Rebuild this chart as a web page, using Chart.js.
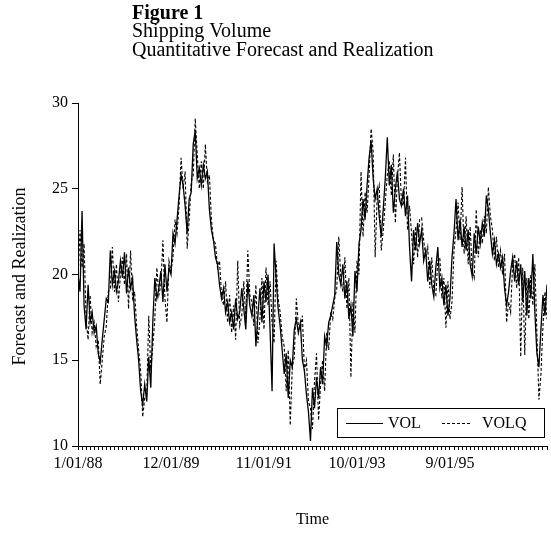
<!DOCTYPE html>
<html>
<head>
<meta charset="utf-8">
<script src="https://cdn.jsdelivr.net/npm/chart.js@4.4.1/dist/chart.umd.min.js"></script>
<style>
  html, body { margin: 0; padding: 0; background: #fff; }
  canvas { display: block; }
</style>
</head>
<body>
<canvas id="chart" width="551" height="535"></canvas>
<script>
// Header and axis texts
const headerLines = ['Figure 1', 'Shipping Volume', 'Quantitative Forecast and Realization'];
const xAxisTitle = 'Time';
const yAxisTitle = 'Forecast and Realization';

// Time axis: months since 1/01/88, a date label every 23 months
const dateLabels = ['1/01/88', '12/01/89', '11/01/91', '10/01/93', '9/01/95'];
const monthsPerLabel = 23;
const lastMonth = 116;
const monthsPerObs = 0.5;   // two observations per month

const seriesNames = ['VOL', 'VOLQ'];

// Realized shipping volume
const vol = [
  20.0, 19.0, 23.7, 18.2, 16.8, 19.4, 17.2, 17.8, 16.6, 17.0,
  15.4, 14.9, 16.2, 17.4, 18.6, 18.4, 21.4, 19.4, 20.2, 19.0,
  19.6, 20.8, 19.8, 21.3, 18.9, 20.4, 19.2, 19.8, 17.6, 16.2,
  15.0, 13.2, 12.4, 13.6, 12.6, 15.2, 13.4, 17.2, 19.8, 18.6,
  19.2, 20.2, 18.4, 20.6, 19.0, 20.4, 20.0, 22.4, 21.8, 23.2,
  24.6, 25.8, 25.2, 24.0, 22.4, 24.4, 24.8, 27.6, 28.4, 25.6,
  26.2, 25.2, 26.4, 25.6, 26.0, 23.8, 22.6, 22.0, 21.0, 20.6,
  19.4, 18.6, 19.2, 17.8, 18.4, 17.2, 17.8, 16.8, 18.6, 17.4,
  17.8, 19.2, 18.0, 16.8, 19.6, 18.2, 17.6, 18.8, 15.8, 17.6,
  19.2, 17.2, 19.6, 18.4, 20.0, 16.8, 13.2, 21.8, 19.8, 18.0,
  17.0, 15.6, 14.2, 15.4, 12.8, 15.0, 14.6, 16.8, 17.4, 16.6,
  17.2, 15.0, 14.4, 13.0, 12.0, 10.3, 13.4, 12.2, 14.0, 12.8,
  14.6, 13.6, 16.4, 15.8, 17.2, 17.6, 18.2, 18.8, 21.9, 20.0,
  19.4, 20.6, 18.6, 19.6, 17.4, 18.2, 16.4, 20.2, 19.0, 21.8,
  22.6, 24.4, 23.2, 25.2, 26.8, 27.8, 25.6, 24.4, 25.0, 23.4,
  22.2, 23.8, 25.6, 28.0, 25.2, 26.4, 23.6, 25.0, 26.0, 24.4,
  24.0, 25.0, 23.4, 24.6, 21.6, 19.6, 22.6, 21.4, 23.0, 21.8,
  22.6, 20.8, 21.4, 19.6, 20.8, 19.4, 18.7, 20.4, 21.6, 19.2,
  19.8, 18.2, 19.4, 17.6, 18.6, 21.0, 22.4, 24.4, 22.0, 23.2,
  21.6, 22.8, 21.4, 22.6, 20.6, 19.9, 22.4, 21.2, 22.8, 21.8,
  23.0, 22.2, 24.6, 23.8, 22.4, 21.2, 22.0, 20.6, 21.2, 20.4,
  21.0, 19.2, 18.2, 19.0, 20.2, 21.0, 19.6, 20.8, 19.4, 20.6,
  18.4, 20.2, 17.6, 19.8, 18.6, 21.2, 17.8, 15.4, 14.6, 16.8,
  18.8, 17.6, 19.4
];

// Quantitative forecast of shipping volume
const volq = [
  19.6, 22.6, 20.4, 21.8, 17.4, 16.2, 18.8, 16.6, 17.2, 15.8,
  16.2, 13.6, 15.0, 16.4, 17.0, 19.0, 19.2, 21.6, 19.0, 20.6,
  18.4, 20.0, 21.0, 19.4, 21.2, 18.0, 21.4, 18.6, 19.0, 17.0,
  15.6, 14.4, 11.7, 12.8, 13.0, 17.6, 14.4, 15.8, 17.4, 20.4,
  18.8, 19.4, 22.0, 18.6, 17.2, 20.8, 20.2, 21.0, 23.2, 22.4,
  24.0, 26.8, 25.0, 26.0, 21.5, 23.2, 25.4, 25.8, 29.1, 27.0,
  25.0, 26.6, 25.0, 27.6, 25.4, 25.8, 23.2, 22.0, 21.8, 20.4,
  20.8, 18.8, 18.2, 19.6, 17.2, 18.8, 16.6, 18.2, 16.2, 20.8,
  17.0, 17.6, 19.6, 17.4, 21.4, 18.8, 18.4, 17.0, 19.4, 16.0,
  17.4, 19.8, 16.8, 20.4, 18.2, 19.6, 17.2, 16.0, 20.8, 18.6,
  17.8, 16.4, 15.8, 13.2, 15.6, 11.2, 14.6, 15.2, 18.6, 17.0,
  16.8, 17.6, 14.4, 15.0, 12.6, 12.2, 11.0, 13.8, 15.4, 11.5,
  13.6, 15.0, 13.2, 16.6, 15.6, 17.8, 17.4, 18.6, 19.2, 22.2,
  19.8, 19.0, 21.0, 18.0, 19.8, 14.0, 18.4, 16.6, 20.8, 20.0,
  26.0, 22.2, 24.8, 23.6, 25.8, 28.5, 27.2, 21.0, 24.6, 25.2,
  21.4, 22.6, 24.2, 25.8, 26.6, 24.6, 27.0, 23.0, 25.6, 27.1,
  24.2, 24.0, 26.8, 22.6, 24.0, 22.4, 20.6, 22.8, 21.0, 23.2,
  23.3, 22.0, 21.0, 21.6, 19.2, 21.0, 19.0, 18.8, 20.8, 21.0,
  18.6, 19.8, 16.9, 19.6, 17.4, 18.4, 21.4, 22.6, 24.2, 22.0,
  25.1, 21.2, 23.4, 20.6, 22.8, 20.2, 19.8, 23.8, 21.0, 22.6,
  21.8, 23.4, 22.4, 25.1, 23.4, 22.6, 20.8, 22.2, 20.4, 21.4,
  20.0, 21.2, 17.2, 18.4, 17.8, 20.6, 21.2, 19.2, 21.0, 15.2,
  20.4, 15.3, 19.8, 17.4, 20.0, 18.2, 20.6, 16.6, 12.7, 14.2,
  17.0, 19.0, 17.4
];

const SERIF = '"Liberation Serif", "Times New Roman", serif';

const toPoints = arr => arr.map((v, i) => ({ x: i * monthsPerObs, y: v }));

// White page, header lines and axis titles
const pageText = {
  id: 'pageText',
  beforeDraw(chart) {
    const ctx = chart.ctx;
    ctx.save();
    ctx.fillStyle = '#fff';
    ctx.fillRect(0, 0, chart.width, chart.height);
    ctx.fillStyle = '#000';
    ctx.textAlign = 'left';
    ctx.textBaseline = 'middle';
    const ys = [13.5, 32, 50.5];
    headerLines.forEach((t, k) => {
      ctx.font = (k === 0 ? 'bold ' : '') + '20px ' + SERIF;
      ctx.fillText(t, 132, ys[k]);
    });
    ctx.textAlign = 'center';
    const a = chart.chartArea;
    ctx.font = '16px ' + SERIF;
    ctx.fillText(xAxisTitle, (a.left + a.right) / 2, 520);
    ctx.font = '18px ' + SERIF;
    ctx.translate(20, (a.top + a.bottom) / 2 + 2);
    ctx.rotate(-Math.PI / 2);
    ctx.fillText(yAxisTitle, 0, 0);
    ctx.restore();
  }
};

// Boxed legend inside the lower right of the plot
const boxedLegend = {
  id: 'boxedLegend',
  afterDatasetsDraw(chart) {
    const ctx = chart.ctx;
    const x0 = 337, y0 = 408, w = 207, h = 29;
    const cy = Math.round(y0 + h / 2) + 0.5;
    const slots = [{ x1: 346, x2: 383, tx: 388 }, { x1: 442, x2: 472, tx: 482 }];
    ctx.save();
    ctx.fillStyle = '#fff';
    ctx.fillRect(x0, y0, w, h);
    ctx.strokeStyle = '#000';
    ctx.lineWidth = 1;
    ctx.strokeRect(x0 + 0.5, y0 + 0.5, w, h);
    ctx.font = '16px ' + SERIF;
    ctx.textBaseline = 'middle';
    ctx.textAlign = 'left';
    ctx.fillStyle = '#000';
    chart.data.datasets.forEach((ds, k) => {
      const s = slots[k];
      ctx.lineWidth = 1;
      ctx.setLineDash(ds.borderDash || []);
      ctx.beginPath();
      ctx.moveTo(s.x1, cy);
      ctx.lineTo(s.x2, cy);
      ctx.stroke();
      ctx.setLineDash([]);
      ctx.fillText(ds.label, s.tx, cy);
    });
    ctx.restore();
  }
};

new Chart(document.getElementById('chart'), {
  type: 'line',
  data: {
    datasets: [
      { label: seriesNames[0], data: toPoints(vol), borderColor: '#000', borderWidth: 1.3,
        pointRadius: 0, tension: 0, fill: false },
      { label: seriesNames[1], data: toPoints(volq), borderColor: '#000', borderWidth: 1.1,
        borderDash: [3, 2], pointRadius: 0, tension: 0, fill: false }
    ]
  },
  options: {
    responsive: false,
    animation: false,
    events: [],
    layout: { padding: { top: 103, right: 0, bottom: 0, left: 0 } },
    plugins: { legend: { display: false }, title: { display: false }, tooltip: { enabled: false } },
    scales: {
      x: {
        type: 'linear',
        min: 0,
        max: lastMonth,
        grid: { drawOnChartArea: false, drawTicks: true, tickLength: 4, color: '#000', tickColor: '#000' },
        border: { display: true, color: '#000', width: 1 },
        ticks: {
          stepSize: 1,
          autoSkip: false,
          maxRotation: 0,
          minRotation: 0,
          padding: 4,
          color: '#000',
          font: { family: SERIF, size: 16 },
          callback: v => (Number.isInteger(v) && v % monthsPerLabel === 0 && dateLabels[v / monthsPerLabel]) || ''
        },
        afterFit(scale) { scale.height = 89; }
      },
      y: {
        min: 10,
        max: 30,
        grid: { drawOnChartArea: false, drawTicks: true, tickLength: 6, color: '#000', tickColor: '#000' },
        border: { display: true, color: '#000', width: 1 },
        ticks: { stepSize: 5, padding: 4, color: '#000', font: { family: SERIF, size: 16 } },
        afterFit(scale) { scale.width = 78; }
      }
    }
  },
  plugins: [pageText, boxedLegend]
});
</script>
</body>
</html>
